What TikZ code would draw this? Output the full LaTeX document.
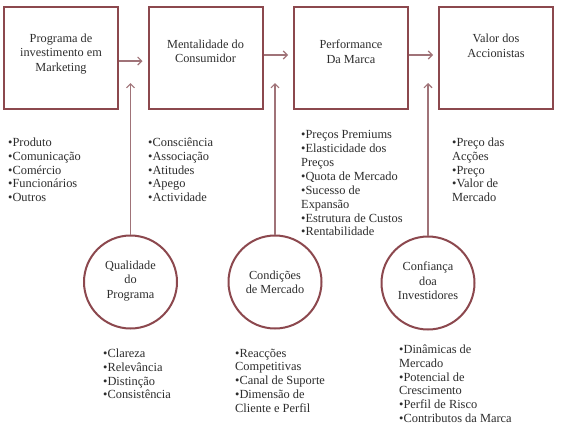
\documentclass[tikz,border=0pt]{standalone}
\usepackage{fontspec}
\setmainfont{Liberation Serif}
\usetikzlibrary{arrows.meta}
\definecolor{frame}{RGB}{140,72,78}
\definecolor{conn}{RGB}{160,115,120}
\definecolor{txt}{RGB}{45,45,45}
\begin{document}
\begin{tikzpicture}[x=1pt,y=-1pt,
 box/.style={draw=frame,line width=2pt,minimum width=114pt,minimum height=102pt,inner sep=0},
 circ/.style={circle,draw=frame,line width=2pt,minimum size=93pt,inner sep=0},
 arr/.style={draw=conn,line width=1.1pt,-{Straight Barb[length=4pt,width=8pt]}},
 lbl/.style={font=\fontsize{12.3}{14.5}\selectfont,text=txt,align=center,inner sep=0},
 lst/.style={font=\fontsize{12.4}{13.85}\selectfont,text=txt,align=left,inner sep=0,anchor=north west}]
\useasboundingbox[fill=white] (0,0) rectangle (561,424);
% boxes
\node[box] (B1) at (61,58) {};
\node[box] (B2) at (205.5,58) {};
\node[box] (B3) at (351,58) {};
\node[box] (B4) at (496,58) {};
\node[lbl] (T1) at (61,54) {Programa de\\investimento em\\Marketing};
\node[lbl] (T2) at (205.5,51.5) {Mentalidade do\\Consumidor};
\node[lbl] (T3) at (351,51.5) {Performance\\Da Marca};
\node[lbl] (T4) at (496,46) {Valor dos\\Accionistas};
% circles
\node[circ] (C1) at (130.5,282) {};
\node[circ] (C2) at (275,282) {};
\node[circ] (C3) at (428,283) {};
\node[lbl] (U1) at (130.5,281) {Qualidade\\do\\Programa};
\node[lbl] (U2) at (275,282.5) {Condições\\de Mercado};
\node[lbl] (U3) at (428,281) {Confiança\\doa\\Investidores};
% connectors
\coordinate (tip) at (0,83);
\draw[arr] ([yshift=-3pt]B1.east) -- ([xshift=-5pt,yshift=-3pt]B2.west);
\draw[arr] ([yshift=3pt]B2.east) -- ([xshift=-5pt,yshift=3pt]B3.west);
\draw[arr] ([yshift=3pt]B3.east) -- ([xshift=-5pt,yshift=3pt]B4.west);
\draw[arr] (C1.north) -- (C1.north |- tip);
\draw[arr] (C2.north) -- (C2.north |- tip);
\draw[arr] (C3.north) -- (C3.north |- tip);
% lists
\node[lst] (L1) at (8,137.5) {•Produto\\•Comunicação\\•Comércio\\•Funcionários\\•Outros};
\node[lst] (L2) at (148,137.5) {•Consciência\\•Associação\\•Atitudes\\•Apego\\•Actividade};
\node[lst] (L3) at (301,130.5) {•Preços Premiums\\•Elasticidade dos\\Preços\\•Quota de Mercado\\•Sucesso de\\Expansão\\•Estrutura de Custos\\•Rentabilidade};
\node[lst] (L4) at (452,137.5) {•Preço das\\Acções\\•Preço\\•Valor de\\Mercado};
\node[lst] (L5) at (103,348.5) {•Clareza\\•Relevância\\•Distinção\\•Consistência};
\node[lst] (L6) at (235,348.5) {•Reacções\\Competitivas\\•Canal de Suporte\\•Dimensão de\\Cliente e Perfil};
\node[lst] (L7) at (399,344.5) {•Dinâmicas de\\Mercado\\•Potencial de\\Crescimento\\•Perfil de Risco\\•Contributos da Marca};
\end{tikzpicture}
\end{document}
